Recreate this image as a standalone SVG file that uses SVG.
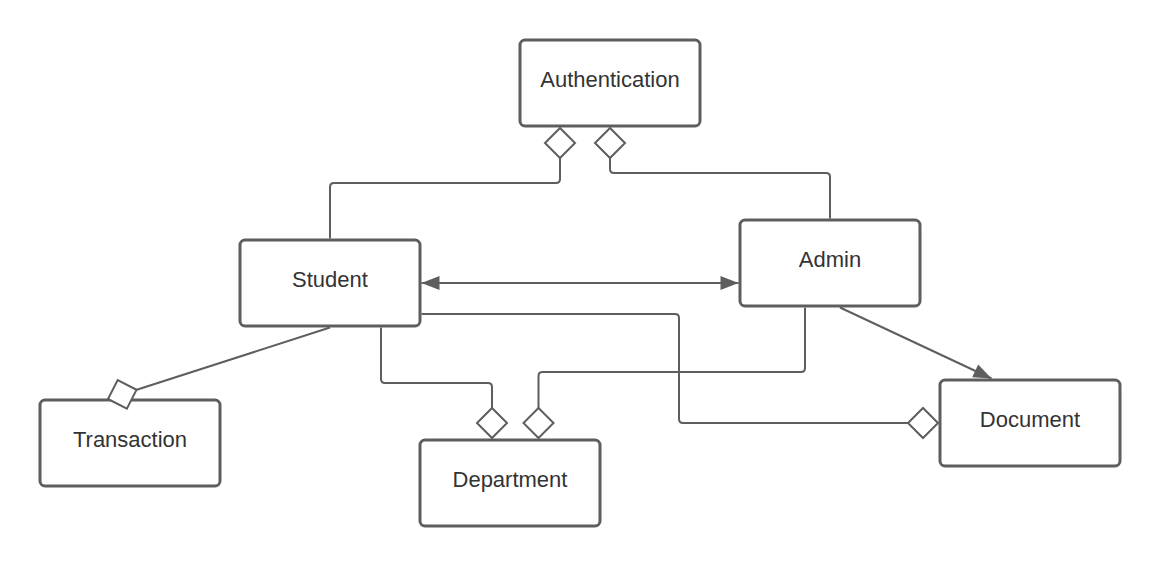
<svg xmlns="http://www.w3.org/2000/svg" width="1160" height="566" viewBox="0 0 1160 566">
  <style>
    .box { fill: #ffffff; stroke: #5e5e5e; stroke-width: 3; }
    .lbl { font-family: "Liberation Sans", Arial, sans-serif; font-size: 22px; fill: #333333; text-anchor: middle; }
    .conn { fill: none; stroke: #5e5e5e; stroke-width: 2; }
  </style>
  <defs>
    <marker id="diamond" markerUnits="userSpaceOnUse" viewBox="-32 -17 34 34" refX="0" refY="0" markerWidth="34" markerHeight="34" orient="auto">
      <path d="M0,0 L-15,-15 L-30,0 L-15,15 Z" fill="#ffffff" stroke="#5e5e5e" stroke-width="2" stroke-linejoin="miter"/>
    </marker>
    <marker id="arrow" markerUnits="userSpaceOnUse" viewBox="-20 -9 22 18" refX="0" refY="0" markerWidth="22" markerHeight="18" orient="auto-start-reverse">
      <path d="M-18,-7 L0,0 L-18,7 Z" fill="#5e5e5e"/>
    </marker>
  </defs>
  <rect width="1160" height="566" fill="#ffffff"/>

  <g id="authentication">
    <rect class="box" x="520" y="40" width="180" height="86" rx="5"/>
    <text class="lbl" x="610" y="87">Authentication</text>
  </g>
  <g id="student">
    <rect class="box" x="240" y="240" width="180" height="86" rx="5"/>
    <text class="lbl" x="330" y="287">Student</text>
  </g>
  <g id="admin">
    <rect class="box" x="740" y="220" width="180" height="86" rx="5"/>
    <text class="lbl" x="830" y="267">Admin</text>
  </g>
  <g id="transaction">
    <rect class="box" x="40" y="400" width="180" height="86" rx="5"/>
    <text class="lbl" x="130" y="447">Transaction</text>
  </g>
  <g id="department">
    <rect class="box" x="420" y="440" width="180" height="86" rx="5"/>
    <text class="lbl" x="510" y="487">Department</text>
  </g>
  <g id="document">
    <rect class="box" x="940" y="380" width="180" height="86" rx="5"/>
    <text class="lbl" x="1030" y="427">Document</text>
  </g>

  <g id="connectors">
    <path class="conn" d="M330,238.5 V187 Q330,183 334,183 H556 Q560,183 560,179 V128" marker-end="url(#diamond)"/>
    <path class="conn" d="M830,218.5 V177 Q830,173 826,173 H614 Q610,173 610,169 V128" marker-end="url(#diamond)"/>
    <path class="conn" d="M421.5,283 H738.5" marker-start="url(#arrow)" marker-end="url(#arrow)"/>
    <path class="conn" d="M330,327.5 L108,399" marker-end="url(#diamond)"/>
    <path class="conn" d="M381,327.5 V379 Q381,383 385,383 H488 Q492,383 492,387 V438" marker-end="url(#diamond)"/>
    <path class="conn" d="M805,307.5 V368 Q805,372 801,372 H542.5 Q538.5,372 538.5,376 V438" marker-end="url(#diamond)"/>
    <path class="conn" d="M421.5,314 H675 Q679,314 679,318 V419 Q679,423 683,423 H938" marker-end="url(#diamond)"/>
    <path class="conn" d="M840,307.5 L991.5,378.5" marker-end="url(#arrow)"/>
  </g>
</svg>
